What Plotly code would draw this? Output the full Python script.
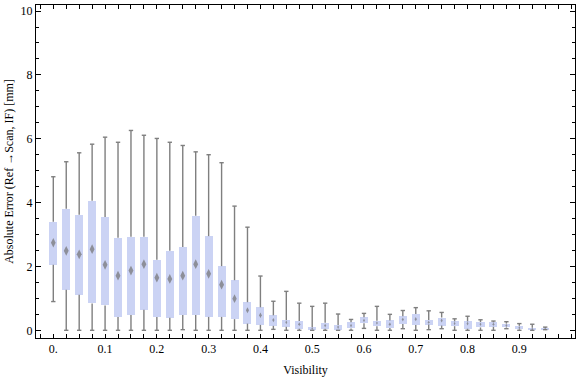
import plotly.graph_objects as go

visibility = [0.0, 0.025, 0.05, 0.075, 0.1, 0.125, 0.15, 0.175, 0.2, 0.225,
              0.25, 0.275, 0.3, 0.325, 0.35, 0.375, 0.4, 0.425, 0.45, 0.475,
              0.5, 0.525, 0.55, 0.575, 0.6, 0.625, 0.65, 0.675, 0.7, 0.725,
              0.75, 0.775, 0.8, 0.825, 0.85, 0.875, 0.9, 0.925, 0.95]

err_min = [0.90, 0.0, 0.0, 0.0, 0.0, 0.0, 0.0, 0.0, 0.0, 0.0,
           0.02, 0.0, 0.0, 0.0, 0.0, 0.0, 0.0, 0.03, 0.0, 0.0,
           0.0, 0.0, 0.0, 0.0, 0.06, 0.0, 0.0, 0.05, 0.0, 0.02,
           0.05, 0.0, 0.0, 0.0, 0.0, 0.05, 0.0, 0.0, 0.02]

err_q1 = [2.05, 1.27, 1.11, 0.84, 0.78, 0.42, 0.48, 0.64, 0.42, 0.39,
          0.48, 0.48, 0.42, 0.42, 0.35, 0.21, 0.17, 0.14, 0.11, 0.05,
          0.01, 0.05, 0.01, 0.06, 0.22, 0.13, 0.07, 0.20, 0.17, 0.18,
          0.15, 0.13, 0.05, 0.09, 0.11, 0.09, 0.03, 0.02, 0.02]

err_median = [2.74, 2.49, 2.38, 2.54, 2.05, 1.71, 1.87, 2.07, 1.65, 1.61,
              1.71, 2.07, 1.77, 1.43, 0.99, 0.63, 0.47, 0.32, 0.25, 0.19,
              0.06, 0.15, 0.10, 0.15, 0.31, 0.23, 0.19, 0.34, 0.35, 0.25,
              0.31, 0.21, 0.21, 0.19, 0.19, 0.15, 0.08, 0.04, 0.05]

err_q3 = [3.40, 3.81, 3.62, 4.06, 3.55, 2.90, 2.93, 2.93, 2.21, 2.49,
          2.61, 3.59, 2.95, 2.01, 1.57, 0.88, 0.72, 0.47, 0.32, 0.29,
          0.10, 0.24, 0.17, 0.25, 0.41, 0.30, 0.31, 0.44, 0.51, 0.32,
          0.40, 0.28, 0.28, 0.26, 0.25, 0.21, 0.14, 0.08, 0.07]

err_max = [4.81, 5.28, 5.56, 5.83, 6.05, 5.89, 6.26, 6.11, 6.01, 5.89,
           5.79, 5.59, 5.50, 5.25, 3.89, 3.23, 1.70, 0.91, 1.22, 0.85,
           0.75, 0.85, 0.51, 0.34, 0.53, 0.75, 0.50, 0.62, 0.71, 0.61,
           0.56, 0.36, 0.44, 0.33, 0.29, 0.27, 0.21, 0.19, 0.10]

x_tickvals = [0.0, 0.1, 0.2, 0.3, 0.4, 0.5, 0.6, 0.7, 0.8, 0.9]
x_ticktext = ["0.", "0.1", "0.2", "0.3", "0.4", "0.5", "0.6", "0.7", "0.8", "0.9"]
y_tickvals = [0, 2, 4, 6, 8, 10]

BOX_COLOR = "#CBD3F4"
WHISKER_COLOR = "#7F7F7F"
MEDIAN_COLOR = "#727272"
FONT = "Liberation Serif"
BOX_W = 0.0155
CAP = 0.0042

fig = go.Figure()

# boxes (interquartile range)
fig.add_trace(go.Bar(
    x=visibility,
    y=[q3 - q1 for q1, q3 in zip(err_q1, err_q3)],
    base=err_q1,
    width=BOX_W,
    marker=dict(color=BOX_COLOR, line=dict(width=0)),
    hoverinfo="skip",
    showlegend=False,
))

# whiskers
wx, wy = [], []
for xv, lo, q1, q3, hi in zip(visibility, err_min, err_q1, err_q3, err_max):
    wx += [xv, xv, None, xv, xv, None]
    wy += [q3, hi, None, lo, q1, None]
fig.add_trace(go.Scatter(x=wx, y=wy, mode="lines",
                         line=dict(color=WHISKER_COLOR, width=1.4),
                         hoverinfo="skip", showlegend=False))

# whisker caps
cx, cy = [], []
for xv, lo, hi in zip(visibility, err_min, err_max):
    cx += [xv - CAP, xv + CAP, None, xv - CAP, xv + CAP, None]
    cy += [hi, hi, None, lo, lo, None]
fig.add_trace(go.Scatter(x=cx, y=cy, mode="lines",
                         line=dict(color=WHISKER_COLOR, width=1.4),
                         hoverinfo="skip", showlegend=False))

# median diamonds, scaled to the box height
sizes = [min(7.0, 2.0 + 3.5 * (q3 - q1)) for q1, q3 in zip(err_q1, err_q3)]
fig.add_trace(go.Scatter(x=visibility, y=err_median, mode="markers",
                         marker=dict(symbol="diamond-tall", size=sizes,
                                     color=MEDIAN_COLOR, line=dict(width=0)),
                         hoverinfo="skip", showlegend=False))

axis_common = dict(
    showline=True, linecolor="black", linewidth=1, mirror="allticks",
    ticks="inside", tickcolor="black", showgrid=False, zeroline=False,
    automargin=False,
    tickfont=dict(family=FONT, size=12, color="black"),
)

fig.update_layout(
    width=576, height=377,
    margin=dict(l=36, r=1, t=5, b=39),
    paper_bgcolor="white", plot_bgcolor="white",
    bargap=0, barmode="overlay",
    font=dict(family=FONT, size=12, color="black"),
    xaxis=dict(
        range=[-0.0334, 1.0075],
        tickmode="array", tickvals=x_tickvals, ticktext=x_ticktext,
        ticklen=4,
        minor=dict(tickmode="linear", tick0=0, dtick=0.025, ticklen=4,
                   ticks="inside", tickcolor="black", showgrid=False),
        title=dict(text="Visibility", font=dict(family=FONT, size=12),
                   standoff=10),
        **axis_common,
    ),
    yaxis=dict(
        range=[-0.241, 10.19],
        tickmode="array", tickvals=y_tickvals,
        ticklen=5,
        minor=dict(tickmode="linear", tick0=0, dtick=0.5, ticklen=3,
                   ticks="inside", tickcolor="black", showgrid=False),
        title=dict(text="Absolute Error (Ref →Scan, IF) [mm]",
                   font=dict(family=FONT, size=12), standoff=4),
        **axis_common,
    ),
)

fig.write_html("out.html",
               config={"displayModeBar": False},
               post_script=["document.body.style.margin='0';"])
